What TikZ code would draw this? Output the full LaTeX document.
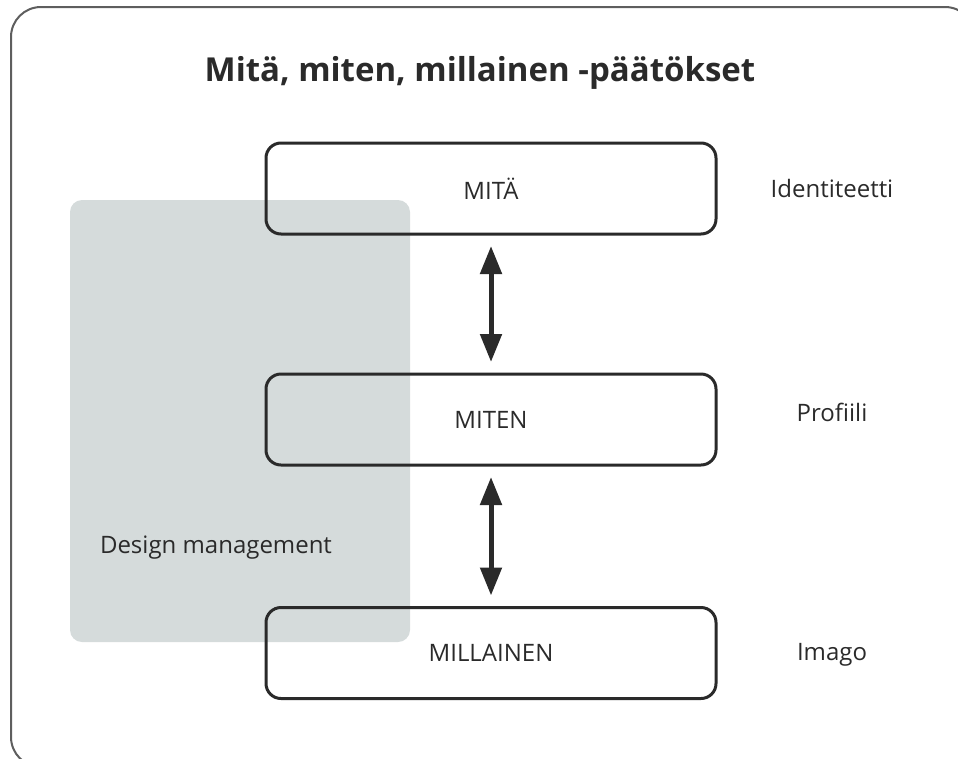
\documentclass[tikz,border=0pt]{standalone}
\usepackage{fontspec}
\setmainfont{Open Sans}
\usetikzlibrary{arrows.meta}
\definecolor{frame}{HTML}{5E5E5E}
\definecolor{ink}{HTML}{2A2A2A}
\definecolor{dmgray}{HTML}{D5DBDB}
\tikzset{
  stage/.style={draw=ink, line width=3pt, rounded corners=15pt, minimum width=450pt, minimum height=91pt, inner sep=0pt, font=\fontsize{24}{28}\selectfont, text=ink},
  sidelabel/.style={font=\fontsize{24}{28}\selectfont, text=ink, inner sep=0pt},
  dblarrow/.style={draw=ink, fill=ink, line width=5pt, {Triangle[width=21pt,length=28pt]}-{Triangle[width=21pt,length=28pt]}, shorten <=10.5pt, shorten >=10.5pt}
}
\begin{document}
\begin{tikzpicture}[x=1pt,y=-1pt]
\useasboundingbox (0,0) rectangle (958,758);
\draw[frame, line width=2pt, rounded corners=30pt] (70,767) -- (11,767) -- (11,7) -- (975,7) -- (975,60);
% design management area
\fill[dmgray, rounded corners=12pt] (70,200) rectangle (410,642);
\node[sidelabel] (dm) at (216,548) {Design management};
% title
\node[font=\fontsize{33}{38}\bfseries\selectfont, text=ink, inner sep=0pt] (title) at (480,73) {Mitä, miten, millainen -päätökset};
% stages
\node[stage] (mita) at (491,188.5) {MITÄ};
\node[stage] (miten) at (491,419.5) {MITEN};
\node[stage] (millainen) at (491,653) {MILLAINEN};
% side labels
\node[sidelabel] (ident) at (832,188) {Identiteetti};
\node[sidelabel] (prof) at (832,412) {Profiili};
\node[sidelabel] (imago) at (832,655) {Imago};
% arrows
\draw[dblarrow] (mita.south) -- (miten.north);
\draw[dblarrow] (miten.south) -- (millainen.north);
\end{tikzpicture}
\end{document}
